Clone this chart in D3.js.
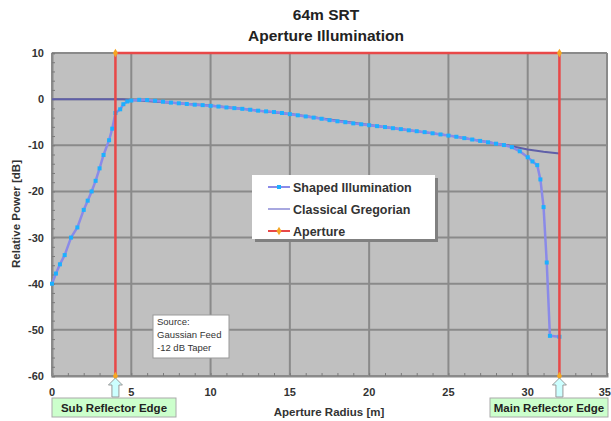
<!DOCTYPE html>
<html>
<head>
<meta charset="utf-8">
<script src="https://cdn.jsdelivr.net/npm/d3@7"></script>
<style>
  body { margin: 0; background: #fff; }
  svg { display: block; font-family: "Liberation Sans", Arial, sans-serif; }
</style>
</head>
<body>
<div id="chart"></div>
<script>
// aperture radius [m] vs relative power [dB]
var shapedR = [0, 0.25, 0.5, 0.8, 1.2, 1.6, 2.0, 2.25, 2.5, 2.75, 3.0, 3.25, 3.6, 3.8, 4.0, 4.3, 4.5, 4.75,
  5.0, 5.5, 6, 6.5, 7, 7.5, 8, 8.5, 9, 9.5, 10, 10.5, 11, 11.5, 12, 12.5, 13, 13.5, 14, 14.5,
  15, 15.5, 16, 16.5, 17, 17.5, 18, 18.5, 19, 19.5, 20, 20.5, 21, 21.5, 22, 22.5, 23, 23.5, 24, 24.5,
  25, 25.5, 26, 26.5, 27, 27.5, 28, 28.5, 29, 29.5, 30, 30.3, 30.6, 30.8, 31.0, 31.2, 31.4, 32];
var shapedDb = [-40, -37.8, -35.8, -33.8, -30, -27.8, -24, -22, -20, -17.7, -15, -12.1, -8.9, -6.4, -3.0, -2.2, -1.1, -0.5,
  -0.3, -0.15, -0.2, -0.35, -0.55, -0.75, -0.9, -1.05, -1.2, -1.3, -1.45, -1.6, -1.8, -1.95, -2.1, -2.3, -2.5, -2.65, -2.8, -3.0,
  -3.25, -3.5, -3.75, -4.0, -4.25, -4.55, -4.8, -5.0, -5.25, -5.45, -5.65, -5.85, -6.05, -6.3, -6.5, -6.75, -6.95, -7.15, -7.4, -7.65,
  -7.9, -8.15, -8.45, -8.75, -9.05, -9.35, -9.65, -9.95, -10.4, -11.3, -12.6, -13.5, -14.3, -17.4, -23.4, -35.4, -51.3, -51.5];

var classicR = [0, 4.5, 5, 10, 15, 20, 25, 28, 29, 30, 31, 32];
var classicDb = [0, 0, -0.2, -1.4, -3.2, -5.6, -7.85, -9.6, -10.2, -10.9, -11.4, -11.8];

var apertureR = [4, 4, 32, 32];
var apertureDb = [-60, 10, 10, -60];

var xTicks = [0, 5, 10, 15, 20, 25, 30, 35];
var yTicks = [10, 0, -10, -20, -30, -40, -50, -60];
var legendNames = ["Shaped Illumination", "Classical Gregorian", "Aperture"];
var sourceLines = ["Source:", "Gaussian Feed", "-12 dB Taper"];

var W = 611, H = 421;
var x = d3.scaleLinear().domain([0, 35]).range([52, 607]);
var y = d3.scaleLinear().domain([-60, 10]).range([376, 53]);

var svg = d3.select("#chart").append("svg").attr("width", W).attr("height", H);

// plot background
svg.append("rect").attr("x", x(0)).attr("y", y(10))
  .attr("width", x(35) - x(0)).attr("height", y(-60) - y(10))
  .attr("fill", "#c0c0c0");

// grid
var grid = svg.append("g").attr("stroke", "#8a8a8a").attr("stroke-width", 2);
grid.selectAll(".gx").data(xTicks).enter().append("line")
  .attr("x1", function(d){return x(d);}).attr("x2", function(d){return x(d);})
  .attr("y1", y(10)).attr("y2", y(-60));
grid.selectAll(".gy").data(yTicks).enter().append("line")
  .attr("y1", function(d){return y(d);}).attr("y2", function(d){return y(d);})
  .attr("x1", x(0)).attr("x2", x(35));

// axes with minor ticks pointing inward
var xAxis = svg.append("g").attr("transform", "translate(0," + y(-60) + ")")
  .call(d3.axisBottom(x).tickValues(d3.range(0, 36, 1)).tickSize(-3).tickFormat(""));
var yAxis = svg.append("g").attr("transform", "translate(" + x(0) + ",0)")
  .call(d3.axisLeft(y).tickValues(d3.range(-60, 11, 2)).tickSize(-3).tickFormat(""));
[xAxis, yAxis].forEach(function(a){
  a.selectAll("path").attr("stroke", "#8a8a8a").attr("stroke-width", 2);
  a.selectAll("line").attr("stroke", "#7a7a7a");
});

svg.selectAll(".xl").data(xTicks).enter().append("text")
  .attr("x", function(d){return d === 35 ? 611 : x(d);}).attr("y", 396)
  .attr("text-anchor", function(d){return d === 35 ? "end" : "middle";})
  .attr("font-size", 11).attr("font-weight", "bold").attr("fill", "#333")
  .text(function(d){return d;});
svg.selectAll(".yl").data(yTicks).enter().append("text")
  .attr("x", 44).attr("y", function(d){return y(d) + 4;})
  .attr("text-anchor", "end").attr("font-size", 11).attr("font-weight", "bold").attr("fill", "#333")
  .text(function(d){return d;});

// titles
svg.append("text").attr("x", 326).attr("y", 20).attr("text-anchor", "middle")
  .attr("font-size", 15.5).attr("font-weight", "bold").attr("fill", "#222").text("64m SRT");
svg.append("text").attr("x", 326).attr("y", 41).attr("text-anchor", "middle")
  .attr("font-size", 15.5).attr("font-weight", "bold").attr("fill", "#222").text("Aperture Illumination");
svg.append("text").attr("x", 329).attr("y", 416).attr("text-anchor", "middle")
  .attr("font-size", 11.5).attr("font-weight", "bold").attr("fill", "#333").text("Aperture Radius [m]");
svg.append("text").attr("transform", "translate(20,214) rotate(-90)").attr("text-anchor", "middle")
  .attr("font-size", 11.5).attr("font-weight", "bold").attr("fill", "#333").text("Relative Power [dB]");

var line = d3.line().x(function(d){return x(d[0]);}).y(function(d){return y(d[1]);});

// classical gregorian
svg.append("path").datum(d3.zip(classicR, classicDb)).attr("d", line)
  .attr("fill", "none").attr("stroke", "#5f5fa8").attr("stroke-width", 2);

// shaped illumination
var shaped = d3.zip(shapedR, shapedDb);
svg.append("path").datum(shaped).attr("d", line)
  .attr("fill", "none").attr("stroke", "#8a8ae8").attr("stroke-width", 2.5);
svg.selectAll(".sm").data(shaped).enter().append("rect")
  .attr("x", function(d){return x(d[0]) - 2;}).attr("y", function(d){return y(d[1]) - 2;})
  .attr("width", 4).attr("height", 4).attr("fill", "#1cb0ff");

// aperture
var aperture = d3.zip(apertureR, apertureDb);
svg.append("path").datum(aperture).attr("d", line)
  .attr("fill", "none").attr("stroke", "#e84848").attr("stroke-width", 2.5);
svg.selectAll(".am").data(aperture).enter().append("path")
  .attr("transform", function(d){return "translate(" + x(d[0]) + "," + y(d[1]) + ")";})
  .attr("d", d3.symbol(d3.symbolDiamond, 22)).attr("fill", "#f5a623");

// legend
var lg = svg.append("g");
lg.append("rect").attr("x", 255).attr("y", 178).attr("width", 183).attr("height", 64).attr("fill", "#808080");
lg.append("rect").attr("x", 252).attr("y", 175).attr("width", 183).attr("height", 64).attr("fill", "#fff");
var lgColors = ["#8a8ae8", "#a8a8e0", "#e84848"];
legendNames.forEach(function(n, i){
  var ly = 187 + i * 22;
  lg.append("line").attr("x1", 268).attr("x2", 290).attr("y1", ly).attr("y2", ly)
    .attr("stroke", lgColors[i]).attr("stroke-width", 2);
  if (i === 0) lg.append("rect").attr("x", 277).attr("y", ly - 2).attr("width", 4).attr("height", 4).attr("fill", "#1cb0ff");
  if (i === 2) lg.append("path").attr("transform", "translate(279," + ly + ")")
    .attr("d", d3.symbol(d3.symbolDiamond, 22)).attr("fill", "#f5a623");
  lg.append("text").attr("x", 293).attr("y", ly + 4.5).attr("font-size", 12.5).attr("font-weight", "bold")
    .attr("fill", "#333").text(n);
});

// source note
svg.append("rect").attr("x", 153).attr("y", 315).attr("width", 76).attr("height", 43)
  .attr("fill", "#fff").attr("stroke", "#999").attr("stroke-width", 1);
sourceLines.forEach(function(s, i){
  svg.append("text").attr("x", 157).attr("y", 325 + i * 13).attr("font-size", 9.5)
    .attr("fill", "#333").text(s);
});

// edge arrows and labels
function arrow(r) {
  var cx = x(r);
  svg.append("path")
    .attr("d", "M" + cx + ",378 L" + (cx + 7) + ",385 L" + (cx + 3.5) + ",385 L" + (cx + 3.5) + ",397 L" + (cx - 3.5) + ",397 L" + (cx - 3.5) + ",385 L" + (cx - 7) + ",385 Z")
    .attr("fill", "#ccffff").attr("stroke", "#999").attr("stroke-width", 1);
}
arrow(apertureR[0]);
arrow(apertureR[2]);

function edgeLabel(x0, w, txt) {
  svg.append("rect").attr("x", x0).attr("y", 398).attr("width", w).attr("height", 19)
    .attr("fill", "#ccffcc").attr("stroke", "#aaa").attr("stroke-width", 1);
  svg.append("text").attr("x", x0 + w / 2).attr("y", 411.5).attr("text-anchor", "middle")
    .attr("font-size", 11.5).attr("font-weight", "bold").attr("fill", "#222").text(txt);
}
edgeLabel(52, 124, "Sub Reflector Edge");
edgeLabel(490, 118, "Main Reflector Edge");
</script>
</body>
</html>
